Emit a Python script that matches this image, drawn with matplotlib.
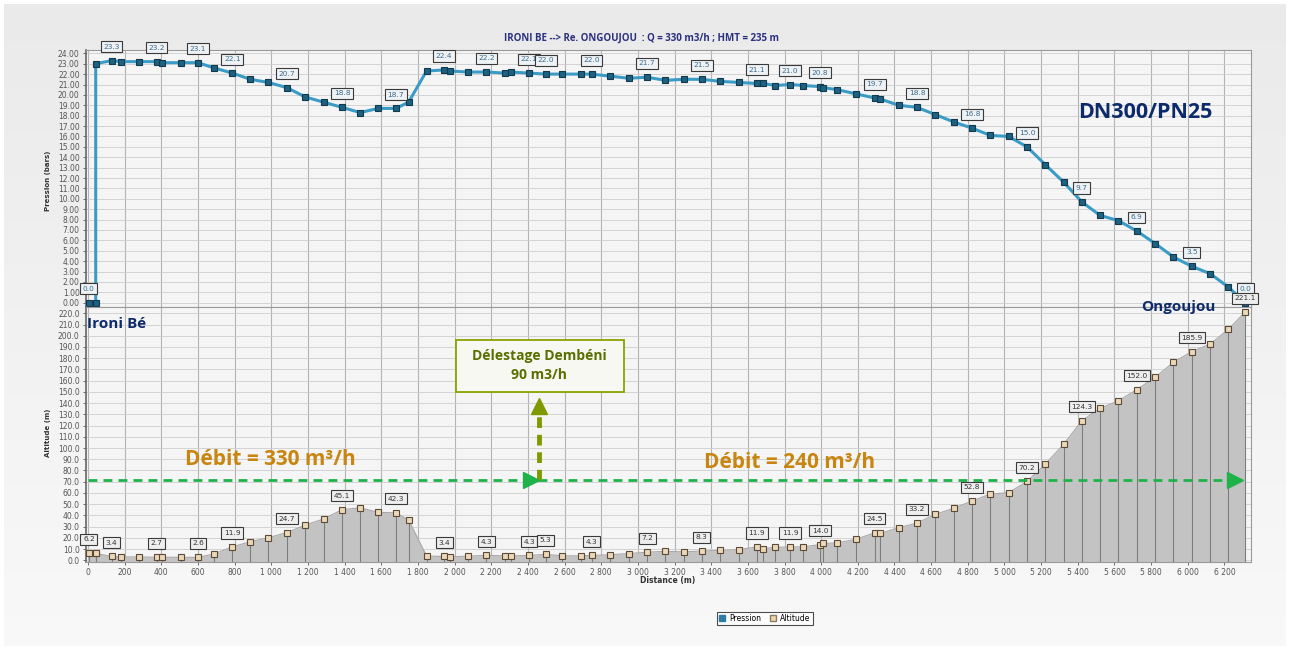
import matplotlib
matplotlib.use("Agg")
import matplotlib.pyplot as plt
import numpy as np
from matplotlib.lines import Line2D
from matplotlib.patches import Rectangle

# ---------------- data ----------------
distance = [5, 42, 42, 129, 180, 278, 374, 406, 510, 600, 686, 787, 885, 983, 1085,
            1185, 1285, 1386, 1484, 1584, 1680, 1749, 1847, 1943, 1974, 2074, 2174,
            2273, 2306, 2406, 2497, 2587, 2687, 2747, 2850, 2950, 3050, 3150, 3250,
            3349, 3449, 3549, 3649, 3685, 3749, 3830, 3903, 3994, 4012, 4088, 4190,
            4292, 4323, 4423, 4523, 4623, 4723, 4823, 4923, 5023, 5123, 5222, 5323,
            5422, 5522, 5622, 5722, 5822, 5922, 6022, 6122, 6222, 6313]

pression = [0.0, 0.0, 23.0, 23.3, 23.2, 23.2, 23.2, 23.1, 23.1, 23.1, 22.6, 22.1, 21.5,
            21.2, 20.7, 19.8, 19.3, 18.8, 18.3, 18.7, 18.7, 19.3, 22.3, 22.4, 22.3,
            22.2, 22.2, 22.1, 22.2, 22.1, 22.0, 22.0, 22.0, 22.0, 21.8, 21.6, 21.7,
            21.4, 21.5, 21.5, 21.3, 21.2, 21.1, 21.1, 20.9, 21.0, 20.9, 20.8, 20.7,
            20.5, 20.1, 19.7, 19.6, 19.0, 18.8, 18.1, 17.4, 16.8, 16.1, 16.0, 15.0,
            13.3, 11.6, 9.7, 8.4, 7.9, 6.9, 5.7, 4.4, 3.5, 2.8, 1.5, 0.0]

altitude = [6.2, 6.2, 6.2, 3.4, 3.0, 3.0, 2.7, 2.7, 2.7, 2.6, 5.6, 11.9, 16.6, 20.1,
            24.7, 31.4, 36.8, 45.1, 46.8, 42.7, 42.3, 35.9, 3.8, 3.4, 3.0, 3.8, 4.3,
            4.0, 4.0, 4.3, 5.3, 4.0, 4.0, 4.3, 5.0, 6.0, 7.2, 8.0, 7.5, 8.3, 8.8, 9.5,
            11.9, 10.5, 11.5, 11.9, 12.0, 14.0, 15.0, 15.5, 18.7, 24.5, 24.0, 29.0,
            33.2, 41.0, 46.3, 52.8, 59.0, 60.2, 70.2, 85.5, 103.3, 124.3, 135.3, 142.1,
            152.0, 163.0, 176.3, 185.9, 192.6, 205.7, 221.1]

labeled_distances = [5, 129, 374, 600, 787, 1085, 1386, 1680, 1943, 2174, 2406, 2497,
                     2747, 3050, 3349, 3649, 3830, 3994, 4292, 4523, 4823, 5123, 5422,
                     5722, 6022, 6313]

pression_ticks = list(range(0, 25))
altitude_ticks = list(range(0, 221, 10))
distance_ticks = list(range(0, 6201, 200))
distance_ticklabels = ["{:,}".format(v).replace(",", " ") for v in distance_ticks]

title = "IRONI BE --> Re. ONGOUJOU  : Q = 330 m3/h ; HMT = 235 m"
debit_line_alt = 71.2
delestage_x = 2460
debit1_text = "Débit = 330 m³/h"
debit2_text = "Débit = 240 m³/h"
delestage_text = "Délestage Dembéni\n90 m3/h"

# ---------------- layout ----------------
W, H = 1290, 650
fig = plt.figure(figsize=(W / 100, H / 100), dpi=100)
fig.patch.set_facecolor("white")


def fx(px):
    return px / W


def fy(py):
    return 1 - py / H


# background panel with soft vertical gradient
bg = fig.add_axes([fx(4), fy(646), 1282 / W, 642 / H], zorder=-10)
grad = np.linspace(0, 1, 256)[:, None]
top = np.array([0.918, 0.918, 0.918])
bot = np.array([0.975, 0.975, 0.975])
img = top[None, None, :] * (1 - grad[:, :, None]) + bot[None, None, :] * grad[:, :, None]
bg.imshow(img, aspect="auto", extent=[0, 1, 0, 1])
bg.set_axis_off()

left, width = fx(86), 1165 / W
ax1 = fig.add_axes([left, fy(307), width, (307 - 50) / H])
ax2 = fig.add_axes([left, fy(561.5), width, (561.5 - 307) / H], sharex=ax1)

xmin, xmax = -11, 6345
for ax in (ax1, ax2):
    ax.set_facecolor("#f5f5f5")
    ax.set_axisbelow(True)
    ax.set_xlim(xmin, xmax)
    ax.set_xticks(distance_ticks)
    ax.grid(axis="x", color="#b3b3b3", lw=0.8)
    ax.grid(axis="y", color="#cdcdcd", lw=0.6)
    for s in ax.spines.values():
        s.set_color("#9a9a9a")
        s.set_linewidth(0.8)
    ax.spines["left"].set_color("#666666")
    ax.spines["left"].set_linewidth(1.2)
    ax.tick_params(axis="both", labelsize=5.5, colors="#555555", length=2.5, pad=2,
                   width=0.6)

ax1.set_ylim(-0.41, 24.32)
ax1.set_yticks(pression_ticks)
ax1.set_yticklabels(["{:.2f}".format(v) for v in pression_ticks])
ax1.tick_params(axis="x", labelbottom=False, length=0)

ax2.set_ylim(-1.07, 225.6)
ax2.set_yticks(altitude_ticks)
ax2.set_yticklabels(["{:.1f}".format(v) for v in altitude_ticks])
ax2.set_xticklabels(distance_ticklabels)

# ---------------- series ----------------
ax1.plot(distance, pression, color="#3a9cc6", lw=2.2, marker="s", ms=4.6,
         mfc="#1f6180", mec="#0f3a50", mew=0.8, zorder=5, clip_on=False)

ax2.fill_between(distance, altitude, -1.07, color="#c3c3c3", zorder=2, lw=0)
ax2.vlines(distance, -1.07, altitude, color="#7d7d7d", lw=0.8, zorder=3)
ax2.plot(distance, altitude, color="#a8a8a8", lw=0.8, zorder=4)
ax2.plot(distance, altitude, ls="none", marker="s", ms=5, mfc="#ebd8b7",
         mec="#5b4a3a", mew=0.8, zorder=5, clip_on=False)

# value labels
for d in labeled_distances:
    i = distance.index(d)
    ax1.annotate("{:.1f}".format(pression[i]), (distance[i], pression[i]),
                 xytext=(0, 10), textcoords="offset points", ha="center", va="center",
                 fontsize=5.3, color="#3b6b8c", zorder=8, annotation_clip=False,
                 bbox=dict(boxstyle="square,pad=0.35", fc="#eef2f5", ec="#3a3a3a", lw=0.8))
    ax2.annotate("{:.1f}".format(altitude[i]), (distance[i], altitude[i]),
                 xytext=(0, 10), textcoords="offset points", ha="center", va="center",
                 fontsize=5.3, color="#333333", zorder=8, annotation_clip=False,
                 bbox=dict(boxstyle="square,pad=0.35", fc="#eeeeee", ec="#3a3a3a", lw=0.8))

# ---------------- annotations ----------------
green = "#1db34a"
olive = "#7f9a00"
ax2.plot([0, 6290], [debit_line_alt, debit_line_alt], color=green, lw=2,
         ls=(0, (3.2, 2.2)), zorder=6)
ax2.plot([delestage_x - 44, 6257], [debit_line_alt, debit_line_alt], ls="none",
         marker=">", ms=12, color=green, zorder=7)
ax2.plot([delestage_x, delestage_x], [debit_line_alt, 133], color=olive, lw=3.5,
         ls=(0, (2.2, 1.4)), zorder=6)
ax2.plot([delestage_x], [137.5], marker="^", ms=12, color=olive, zorder=7)

ax2.add_patch(Rectangle((2008, 150.1), 2924 - 2008, 196.4 - 150.1, fc="#f8f8f2",
                        ec="#8ca300", lw=1.3, zorder=7))
ax2.text(delestage_x, 173.3, delestage_text, ha="center", va="center", fontsize=10,
         fontweight="bold", color="#5a6f00", family="Open Sans", linespacing=1.45,
         zorder=8)

orange = "#c8850f"
ax2.text(997, 90, debit1_text, ha="center", va="center", fontsize=15,
         fontweight="bold", color=orange, family="Open Sans", zorder=8)
ax2.text(3827, 87.5, debit2_text, ha="center", va="center", fontsize=15,
         fontweight="bold", color=orange, family="Open Sans", zorder=8)

navy = "#0d2b6b"
ax1.text(5770, 18.35, "DN300/PN25", ha="center", va="center", fontsize=15.5,
         fontweight="bold", color=navy, family="Open Sans", zorder=8)
fig.text(fx(1178), fy(307), "Ongoujou", ha="center", va="center", fontsize=11,
         fontweight="bold", color=navy, family="Open Sans", zorder=20)
fig.text(fx(117), fy(324), "Ironi Bé", ha="center", va="center", fontsize=11,
         fontweight="bold", color=navy, family="Open Sans", zorder=20)

fig.text(fx(642), fy(38), title, ha="center", va="center", fontsize=7,
         fontweight="bold", color="#2b3080", family="Open Sans")

fig.text(fx(48), fy(181), "Pression (bars)", rotation=90, ha="center", va="center",
         fontsize=5, fontweight="bold", color="#333333")
fig.text(fx(48), fy(433), "Altitude (m)", rotation=90, ha="center", va="center",
         fontsize=5, fontweight="bold", color="#333333")
fig.text(fx(668), fy(580), "Distance (m)", ha="center", va="center",
         fontsize=5.5, fontweight="bold", color="#333333")

handles = [
    Line2D([], [], ls="none", marker="s", ms=4, mfc="#2d7ca3", mec="#2d7ca3"),
    Line2D([], [], ls="none", marker="s", ms=4, mfc="#ead7b0", mec="#8a7a60"),
]
leg = fig.legend(handles, ["Pression", "Altitude"], loc="center",
                 bbox_to_anchor=(fx(765), fy(618.5)), ncol=2, fontsize=5.5,
                 frameon=True, fancybox=False, edgecolor="#222222",
                 handlelength=0.8, handletextpad=0.5, columnspacing=1.2,
                 borderpad=0.3)
leg.get_frame().set_linewidth(0.8)
leg.get_frame().set_facecolor("white")

fig.savefig("out.png", dpi=100)
